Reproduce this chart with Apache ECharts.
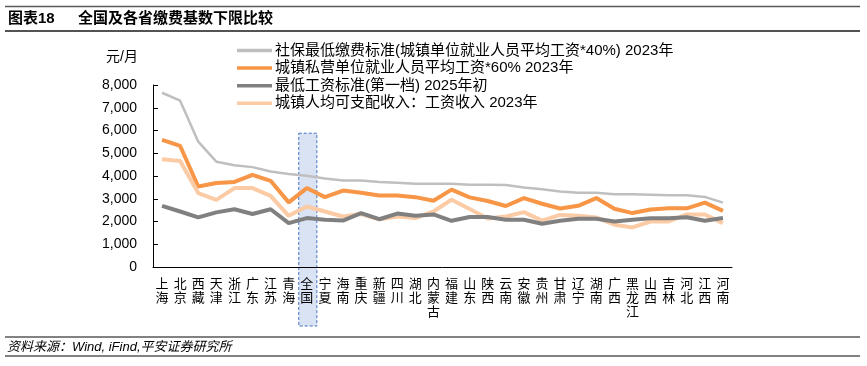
<!DOCTYPE html>
<html>
<head>
<meta charset="utf-8">
<script src="https://cdn.jsdelivr.net/npm/echarts@6/dist/echarts.min.js"></script>
<style>
  html, body { margin: 0; padding: 0; background: #fff; }
  #chart { width: 867px; height: 366px; }
</style>
</head>
<body>
<div id="chart"></div>
<script>
const categories = ['上海','北京','西藏','天津','浙江','广东','江苏','青海','全国','宁夏','海南','重庆','新疆','四川','湖北','内蒙古','福建','山东','陕西','云南','安徽','贵州','甘肃','辽宁','湖南','广西','黑龙江','山西','吉林','河北','江西','河南'];

const socialMin = [7660,7310,5510,4630,4470,4390,4200,4090,4010,3890,3800,3800,3740,3700,3655,3655,3655,3610,3610,3600,3490,3420,3320,3260,3260,3200,3200,3180,3150,3150,3080,2830];
const privateWage60 = [5590,5320,3540,3690,3740,4050,3790,2840,3470,3070,3360,3260,3140,3140,3070,2910,3400,3060,2900,2680,3030,2780,2570,2690,3030,2560,2370,2530,2580,2580,2830,2470];
const minWage = [2690,2440,2180,2400,2540,2330,2540,1930,2150,2080,2040,2370,2100,2350,2250,2310,2030,2200,2200,2080,2080,1900,2030,2120,2120,2000,2080,2140,2140,2190,2030,2150];
const disposableWage = [4740,4660,3250,2950,3470,3470,3130,2250,2660,2440,2220,2330,2100,2220,2150,2440,2960,2550,2130,2220,2410,2040,2290,2250,2180,1860,1740,2000,2000,2310,2310,1930];

const seriesNames = [
  '社保最低缴费标准(城镇单位就业人员平均工资*40%) 2023年',
  '城镇私营单位就业人员平均工资*60% 2023年',
  '最低工资标准(第一档) 2025年初',
  '城镇人均可支配收入：工资收入 2023年'
];
const yTicks = [0,1000,2000,3000,4000,5000,6000,7000,8000];
const highlightCategory = '全国';

const FONT = "'Liberation Sans', Arial, 'Noto Sans CJK SC', sans-serif";
const chart = echarts.init(document.getElementById('chart'));

function staticGraphics() {
  return [
    { id: 'r1', type: 'line', shape: { x1: 5, y1: 6.5, x2: 860, y2: 6.5 }, style: { stroke: '#595959', lineWidth: 1.3 } },
    { id: 'r2', type: 'line', shape: { x1: 5, y1: 31, x2: 860, y2: 31 }, style: { stroke: '#1a1a1a', lineWidth: 1.5 } },
    { id: 'r3', type: 'line', shape: { x1: 5, y1: 337, x2: 860, y2: 337 }, style: { stroke: '#595959', lineWidth: 1.3 } },
    { id: 'r4', type: 'line', shape: { x1: 5, y1: 356, x2: 860, y2: 356 }, style: { stroke: '#595959', lineWidth: 1.3 } },
    { id: 't1', type: 'text', x: 8, y: 19, style: { text: '图表18', font: "bold 15px " + FONT, fill: '#000', textVerticalAlign: 'middle' } },
    { id: 't2', type: 'text', x: 78, y: 19, style: { text: '全国及各省缴费基数下限比较', font: "bold 15px " + FONT, fill: '#000', textVerticalAlign: 'middle' } },
    { id: 't3', type: 'text', x: 7, y: 347, style: { text: '资料来源：Wind, iFind,平安证券研究所', font: "italic 13px " + FONT, fill: '#000', textVerticalAlign: 'middle' } },
    { id: 'yname', type: 'text', x: 138, y: 57, style: { text: '元/月', font: "14px " + FONT, fill: '#000', textAlign: 'right', textVerticalAlign: 'middle' } }
  ];
}

const option = {
  animation: false,
  backgroundColor: '#fff',
  textStyle: { fontFamily: FONT },
  grid: { left: 153, right: 135, top: 85, bottom: 99, containLabel: false },
  legend: {
    orient: 'vertical',
    left: 237, top: 43,
    padding: 0,
    icon: 'rect',
    itemWidth: 35, itemHeight: 3.5, itemGap: 2.6,
    textStyle: { fontSize: 15, lineHeight: 15, color: '#000', fontFamily: FONT, padding: [0, 0, 0, -2] },
    data: seriesNames
  },
  xAxis: {
    type: 'category',
    data: categories,
    boundaryGap: true,
    axisLine: { lineStyle: { color: '#000', width: 1 } },
    axisTick: { inside: true, length: 5, interval: 0, lineStyle: { color: '#000' } },
    axisLabel: {
      interval: 0, margin: 10, fontSize: 13, lineHeight: 14, color: '#000', fontFamily: FONT,
      formatter: v => v.split('').join('\n')
    },
    splitLine: { show: false }
  },
  yAxis: {
    type: 'value',
    min: yTicks[0], max: yTicks[yTicks.length - 1], interval: 1000,
    axisLine: { show: true, lineStyle: { color: '#000', width: 1 } },
    axisTick: { show: true, inside: true, length: 5, lineStyle: { color: '#000' } },
    axisLabel: {
      margin: 16, fontSize: 14, color: '#000', fontFamily: FONT,
      formatter: v => v.toLocaleString('en-US')
    },
    splitLine: { show: false }
  },
  series: [
    { name: seriesNames[0], type: 'line', data: socialMin, symbol: 'none', lineStyle: { color: '#BFBFBF', width: 2.5 }, itemStyle: { color: '#BFBFBF' } },
    { name: seriesNames[1], type: 'line', data: privateWage60, symbol: 'none', lineStyle: { color: '#F79646', width: 4 }, itemStyle: { color: '#F79646' } },
    { name: seriesNames[3], type: 'line', data: disposableWage, symbol: 'none', lineStyle: { color: '#FBCBA5', width: 4 }, itemStyle: { color: '#FBCBA5' } },
    { name: seriesNames[2], type: 'line', data: minWage, symbol: 'none', lineStyle: { color: '#808080', width: 4 }, itemStyle: { color: '#808080' } }
  ],
  graphic: staticGraphics()
};
chart.setOption(option);

// highlight box around the national category, positioned through the axes
const idx = categories.indexOf(highlightCategory);
const cx = chart.convertToPixel({ xAxisIndex: 0 }, idx);
const cxNext = chart.convertToPixel({ xAxisIndex: 0 }, idx + 1);
const band = cxNext - cx;
const yTop = chart.convertToPixel({ yAxisIndex: 0 }, 5880);
const y0 = chart.convertToPixel({ yAxisIndex: 0 }, 0);
const g = staticGraphics();
g.unshift({
  id: 'hl', type: 'rect', z: -5,
  shape: { x: cx - band / 2 + 1, y: yTop, width: band, height: (y0 + 59) - yTop },
  style: { fill: '#DAE3F3', stroke: '#4472C4', lineWidth: 1, lineDash: [3, 2] }
});
chart.setOption({ graphic: g });
</script>
</body>
</html>
